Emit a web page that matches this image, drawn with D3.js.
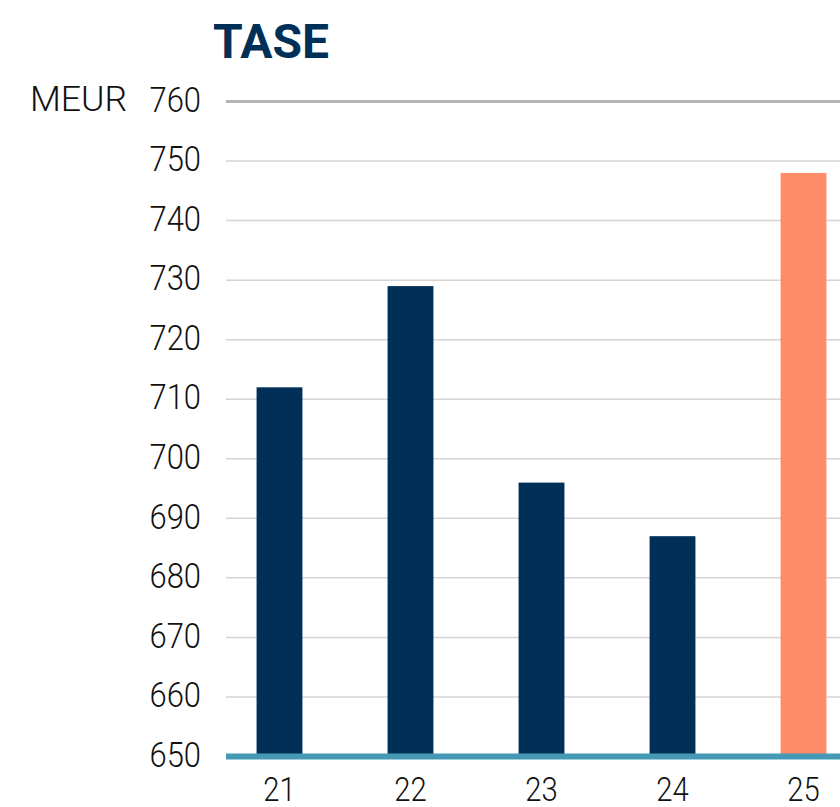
<!DOCTYPE html>
<html><head><meta charset="utf-8">
<script src="https://cdn.jsdelivr.net/npm/d3@7"></script>
<style>
html,body{margin:0;padding:0;background:#fff;}
svg{display:block;}
text{font-family:"Roboto",sans-serif;}
</style></head>
<body><svg id="c" width="840" height="807"></svg>
<script>
const categories = ["21","22","23","24","25"];
const values = [712, 729, 696, 687, 748];
const yTicks = [650,660,670,680,690,700,710,720,730,740,750,760];
const title = "TASE";
const unitLabel = "MEUR";

const svg = d3.select("#c");
const navy = "#003057", orange = "#FF8C69", teal = "#4599B5";
const sx = 0.86;

const y = d3.scaleLinear().domain([650,760]).range([756.5,101.5]);
const x = d3.scaleBand().domain(categories).range([214,869]).paddingInner(0.65).paddingOuter(0.325);

// gridlines
svg.append("g").selectAll("line").data(yTicks.filter(t=>t>650)).join("line")
  .attr("x1",226).attr("x2",840)
  .attr("y1",d=>y(d)).attr("y2",d=>y(d))
  .attr("stroke",d=>d===760?"#b4b4b4":"#d4d4d4")
  .attr("stroke-width",d=>d===760?3:1.5);

// bars
svg.append("g").selectAll("rect").data(values).join("rect")
  .attr("x",(d,i)=>x(categories[i]))
  .attr("width",x.bandwidth())
  .attr("y",d=>y(d))
  .attr("height",d=>y(650)-y(d))
  .attr("fill",(d,i)=>i===categories.length-1?orange:navy);

// baseline
svg.append("line").attr("x1",226).attr("x2",840)
  .attr("y1",y(650)).attr("y2",y(650))
  .attr("stroke",teal).attr("stroke-width",6);

// y axis
const ya = svg.append("g").attr("transform","translate(201,0)")
  .call(d3.axisLeft(y).tickValues(yTicks).tickSize(0).tickPadding(0).tickFormat(d3.format("d")));
ya.select(".domain").remove();
ya.selectAll("text").attr("font-size",36).attr("font-weight",300).attr("fill","#111").attr("dy","0.27em")
  .attr("transform",`scale(${sx},1)`).style("font-family",null);

// x axis
const xa = svg.append("g").attr("transform",`translate(0,${y(650)})`)
  .call(d3.axisBottom(x).tickSize(0).tickPadding(20));
xa.select(".domain").remove();
xa.selectAll("text").attr("font-size",34).attr("font-weight",300).attr("fill","#111")
  .attr("transform",`scale(${sx},1)`).style("font-family",null);

// unit label
svg.append("text").attr("transform",`translate(30,${y(760)}) scale(0.99,1)`).attr("dy","0.27em")
  .attr("font-size",36).attr("font-weight",300).attr("fill","#111").text(unitLabel);

// title
svg.append("text").attr("x",213).attr("y",57.5)
  .attr("font-size",48).attr("font-weight","bold").attr("fill",navy)
  .text(title);
</script></body></html>
